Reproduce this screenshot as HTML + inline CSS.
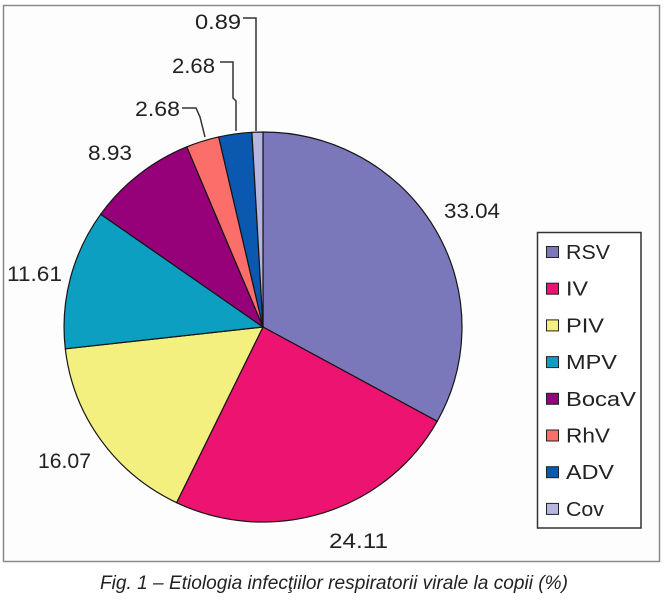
<!DOCTYPE html>
<html>
<head>
<meta charset="utf-8">
<style>
  html,body{margin:0;padding:0;background:#fff;}
  svg{display:block;}
  text{font-family:"Liberation Sans", Arial, sans-serif;fill:#222;}
</style>
</head>
<body>
<svg width="664" height="600" viewBox="0 0 664 600" xmlns="http://www.w3.org/2000/svg">
  <rect x="0" y="0" width="664" height="600" fill="#fff"/>
  <!-- outer frame -->
  <rect x="3.5" y="5.5" width="656" height="556" fill="#fdfdfd" stroke="#8a8a8a" stroke-width="1.5"/>

  <!-- pie -->
  <g stroke="#151515" stroke-width="1.2" stroke-linejoin="round">
    <path d="M263 327 L263 132 A199 195 0 0 1 437.2 421.3 Z" fill="#7a78bb"/>
    <path d="M263 327 L437.2 421.3 A199 195 0 0 1 176.6 502.7 Z" fill="#ec1470"/>
    <path d="M263 327 L176.6 502.7 A199 195 0 0 1 65.3 348.8 Z" fill="#f3f07f"/>
    <path d="M263 327 L65.3 348.8 A199 195 0 0 1 100.7 214.2 Z" fill="#0d9fc2"/>
    <path d="M263 327 L100.7 214.2 A199 195 0 0 1 186.8 146.8 Z" fill="#960078"/>
    <path d="M263 327 L186.8 146.8 A199 195 0 0 1 218.7 136.9 Z" fill="#fb6e6a"/>
    <path d="M263 327 L218.7 136.9 A199 195 0 0 1 251.9 132.3 Z" fill="#0a58b0"/>
    <path d="M263 327 L251.9 132.3 A199 195 0 0 1 263 132 Z" fill="#b5b5e0"/>
  </g>

  <!-- leader lines -->
  <g fill="none" stroke="#333" stroke-width="1.5">
    <path d="M243 18 H256 V131"/>
    <path d="M220 62 H233 V98 L236 101 V131"/>
    <path d="M182 108 H196 L200 117 L205 137"/>
  </g>

  <!-- data labels -->
  <g font-size="21">
    <text x="195" y="29" textLength="46" lengthAdjust="spacingAndGlyphs">0.89</text>
    <text x="172" y="73" textLength="43" lengthAdjust="spacingAndGlyphs">2.68</text>
    <text x="135" y="116" textLength="45" lengthAdjust="spacingAndGlyphs">2.68</text>
    <text x="88" y="160" textLength="44" lengthAdjust="spacingAndGlyphs">8.93</text>
    <text x="7" y="281" textLength="55" lengthAdjust="spacingAndGlyphs">11.61</text>
    <text x="38" y="468" textLength="53" lengthAdjust="spacingAndGlyphs">16.07</text>
    <text x="329" y="548" textLength="59" lengthAdjust="spacingAndGlyphs">24.11</text>
    <text x="444" y="218" textLength="56" lengthAdjust="spacingAndGlyphs">33.04</text>
  </g>

  <!-- legend -->
  <rect x="537.5" y="232.5" width="103.5" height="295.5" fill="#fff" stroke="#333" stroke-width="1.5"/>
  <g stroke="#222" stroke-width="1">
    <rect x="546.5" y="246.5" width="12" height="11" fill="#7a78bb"/>
    <rect x="546.5" y="283.2" width="12" height="11" fill="#ec1470"/>
    <rect x="546.5" y="319.9" width="12" height="11" fill="#f3f07f"/>
    <rect x="546.5" y="356.6" width="12" height="11" fill="#0d9fc2"/>
    <rect x="546.5" y="393.3" width="12" height="11" fill="#960078"/>
    <rect x="546.5" y="430.0" width="12" height="11" fill="#fb6e6a"/>
    <rect x="546.5" y="466.7" width="12" height="11" fill="#0a58b0"/>
    <rect x="546.5" y="503.4" width="12" height="11" fill="#b5b5e0"/>
  </g>
  <g font-size="20">
    <text x="566" y="259" textLength="44" lengthAdjust="spacingAndGlyphs">RSV</text>
    <text x="566" y="295.7" textLength="22" lengthAdjust="spacingAndGlyphs">IV</text>
    <text x="566" y="332.4" textLength="38" lengthAdjust="spacingAndGlyphs">PIV</text>
    <text x="566" y="369.1" textLength="51" lengthAdjust="spacingAndGlyphs">MPV</text>
    <text x="566" y="405.8" textLength="70" lengthAdjust="spacingAndGlyphs">BocaV</text>
    <text x="566" y="442.5" textLength="44" lengthAdjust="spacingAndGlyphs">RhV</text>
    <text x="566" y="479.2" textLength="48" lengthAdjust="spacingAndGlyphs">ADV</text>
    <text x="566" y="515.9" textLength="38" lengthAdjust="spacingAndGlyphs">Cov</text>
  </g>

  <!-- caption -->
  <text x="100" y="589" font-size="19.5" font-style="italic" textLength="468" lengthAdjust="spacingAndGlyphs" fill="#111">Fig. 1 – Etiologia infecţiilor respiratorii virale la copii (%)</text>
</svg>
</body>
</html>
